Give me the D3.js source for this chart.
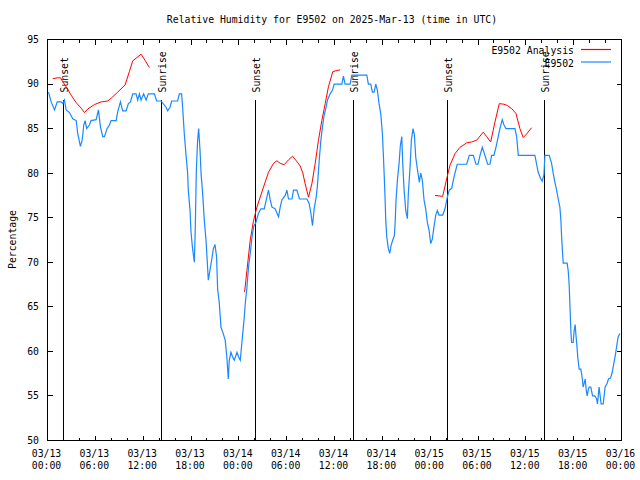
<!DOCTYPE html>
<html>
<head>
<meta charset="utf-8">
<script src="https://cdn.jsdelivr.net/npm/d3@7"></script>
<style>
  body { margin: 0; background: #fff; }
  text { font-family: "DejaVu Sans Mono", monospace; font-size: 9.8px; fill: #000; }
</style>
</head>
<body>
<script>
var W = 640, H = 480
var plot = {left: 47, right: 621, top: 39, bottom: 440}

var title = "Relative Humidity for E9502 on 2025-Mar-13 (time in UTC)"
var yLabel = "Percentage"
var seriesNames = ["E9502 Analysis", "E9502"]
var seriesColors = ["#ff0000", "#1a88ff"]
var yTicks = [50, 55, 60, 65, 70, 75, 80, 85, 90, 95]

// hours since 03/13 00:00 UTC
var sunsetHours = [2.05, 26.1, 50.15]
var sunriseHours = [14.32, 38.35, 62.3]
var sunLineTop = 88.3
var sunLabelBase = 89.05

var obsHours = [
  0.13, 0.46, 0.88, 1.22, 1.72, 1.94, 2.13, 2.34, 2.76, 3.17,
  3.60, 3.80, 4.13, 4.35, 4.55, 4.72, 4.92, 5.26, 5.47, 6.10,
  6.39, 6.64, 6.93, 7.14, 7.48, 7.77, 7.98, 8.61, 8.81, 9.15,
  9.43, 9.86, 10.15, 10.40, 10.69, 11.11, 11.31, 11.53, 11.74, 12.06,
  12.37, 12.65, 13.41, 13.69, 14.24, 14.87, 15.07, 15.37, 15.57, 16.32,
  16.54, 16.82, 16.95, 17.16, 17.38, 17.58, 17.66, 17.88, 18.00, 18.20,
  18.42, 18.54, 18.67, 18.83, 18.96, 19.13, 19.26, 19.46, 19.67, 19.88,
  20.01, 20.17, 20.38, 20.58, 20.80, 21.01, 21.21, 21.34, 21.55, 21.76,
  22.05, 22.30, 22.51, 22.68, 22.80, 23.01, 23.21, 23.43, 23.77, 23.97,
  24.18, 24.52, 24.68, 24.81, 25.02, 25.22, 25.43, 25.65, 25.85, 26.15,
  26.47, 26.77, 27.19, 27.44, 27.72, 27.94, 28.15, 28.56, 28.98, 29.19,
  29.40, 29.82, 30.03, 30.23, 30.66, 30.86, 31.28, 31.61, 32.54, 32.82,
  33.04, 33.24, 33.45, 33.70, 33.86, 34.08, 34.29, 34.49, 34.70, 34.92,
  35.12, 35.45, 35.74, 35.96, 36.92, 37.12, 37.33, 37.96, 38.17, 40.05,
  40.25, 40.55, 40.75, 40.97, 41.18, 41.38, 41.59, 41.81, 42.01, 42.13,
  42.26, 42.35, 42.43, 42.56, 42.76, 42.93, 43.10, 43.31, 43.51, 43.60,
  43.72, 43.89, 44.10, 44.26, 44.44, 44.56, 44.73, 44.94, 45.14, 45.26,
  45.48, 45.64, 45.85, 46.02, 46.19, 46.39, 46.64, 46.82, 47.02, 47.23,
  47.44, 47.64, 47.86, 48.07, 48.27, 48.48, 48.70, 48.90, 49.11, 49.57,
  49.86, 50.15, 50.40, 50.70, 50.90, 51.11, 51.40, 52.58, 52.91, 53.41,
  53.75, 54.00, 54.25, 54.54, 54.87, 55.21, 55.50, 55.71, 56.00, 56.25,
  56.54, 56.75, 57.04, 57.26, 57.51, 58.63, 58.85, 59.05, 61.14, 61.35,
  61.55, 61.85, 62.05, 62.27, 62.39, 62.93, 63.23, 63.43, 63.64, 63.86,
  64.06, 64.27, 64.40, 64.48, 64.61, 64.69, 65.18, 65.31, 65.43, 65.52,
  65.65, 65.74, 65.94, 66.06, 66.19, 66.27, 66.40, 66.52, 66.69, 66.90,
  67.06, 67.19, 67.31, 67.44, 67.56, 67.69, 67.82, 67.94, 68.15, 68.37,
  68.65, 68.87, 68.99, 69.12, 69.19, 69.32, 69.44, 69.70, 69.82, 69.94,
  70.19, 70.37, 70.62, 70.82, 71.03, 71.25, 71.45, 71.57, 71.79
]
var obsRH = [
  89.1, 88.0, 87.1, 88.0, 88.0, 87.8, 88.2, 87.1, 86.8, 86.1,
  85.9, 84.4, 83.0, 83.7, 85.4, 85.9, 85.0, 85.4, 85.9, 86.0,
  87.1, 85.2, 84.1, 84.1, 85.0, 85.4, 85.9, 85.9, 86.9, 88.0,
  87.0, 87.0, 87.8, 88.0, 88.9, 88.9, 88.2, 88.9, 88.2, 88.9,
  88.2, 88.9, 88.9, 88.1, 88.1, 87.4, 87.0, 87.4, 88.1, 88.1,
  88.9, 88.9, 87.4, 84.4, 82.0, 80.0, 78.1, 75.8, 73.4, 71.5,
  70.0, 74.0, 80.3, 83.7, 85.0, 82.6, 80.0, 77.7, 74.7, 72.5,
  70.6, 68.0, 69.1, 70.2, 71.5, 72.0, 70.6, 67.0, 65.4, 62.7,
  62.0, 61.2, 59.2, 56.9, 59.0, 59.9, 59.4, 59.0, 59.9, 59.4,
  59.0, 62.3, 63.8, 65.4, 67.2, 69.5, 71.0, 72.8, 74.0, 74.5,
  75.5, 76.0, 76.0, 77.0, 78.1, 77.0, 76.2, 76.0, 75.1, 76.2,
  77.0, 77.5, 78.1, 77.1, 77.1, 78.1, 78.1, 77.1, 77.1, 76.6,
  75.5, 74.1, 76.0, 77.3, 78.6, 81.4, 83.7, 85.2, 86.5, 87.3,
  88.2, 88.9, 89.3, 90.0, 90.0, 90.9, 90.0, 90.0, 91.0, 91.0,
  90.0, 90.0, 89.1, 89.1, 90.0, 89.3, 87.8, 86.6, 84.4, 82.0,
  79.2, 77.0, 74.7, 72.8, 71.5, 71.0, 71.9, 72.5, 73.0, 74.3,
  77.0, 79.2, 81.1, 83.1, 84.1, 81.1, 78.1, 75.8, 74.9, 77.7,
  80.7, 83.7, 85.0, 84.3, 81.8, 80.5, 79.0, 80.0, 79.2, 77.0,
  76.0, 74.5, 73.6, 72.1, 72.6, 74.0, 75.3, 75.8, 75.3, 75.3,
  76.0, 77.3, 78.1, 78.3, 79.2, 80.0, 81.0, 81.0, 82.0, 82.0,
  81.0, 81.0, 82.0, 82.9, 82.0, 81.0, 81.0, 82.0, 82.0, 82.9,
  84.1, 85.0, 86.0, 85.4, 85.0, 85.0, 84.1, 82.0, 82.0, 81.0,
  80.1, 79.4, 79.1, 79.8, 82.0, 82.0, 81.1, 80.0, 79.0, 78.1,
  77.1, 76.2, 74.7, 73.0, 71.0, 69.9, 69.9, 69.1, 67.6, 65.4,
  62.3, 61.0, 61.0, 62.3, 63.0, 62.0, 60.7, 59.3, 58.0, 58.0,
  57.1, 56.0, 56.4, 56.9, 55.8, 55.0, 55.6, 56.0, 56.0, 55.0,
  55.0, 54.7, 54.1, 55.4, 56.0, 55.0, 54.1, 54.1, 55.0, 56.0,
  56.4, 56.9, 57.0, 57.6, 58.6, 59.7, 60.9, 61.6, 62.0
]

// analysis (E9502 Analysis), null = gap
var anaHours = [
  0.66, 1.22, 1.63, 1.92, 2.34, 2.97, 3.60, 4.22, 4.64, 5.05,
  5.89, 6.73, 7.55, 7.98, 8.81, 9.73, 10.27, 10.69, 11.11, 11.74,
  12.28, 12.78, null,
  24.72, 25.02, 25.43, 25.85, 26.27, 27.10, 27.72, 28.35, 28.78, 29.19,
  29.69, 30.23, 30.73, 31.20, 31.70, 32.03, 32.32, 32.74, 33.16, 33.58,
  33.99, 34.41, 34.83, 35.24, 35.79, 36.21, 36.71, null,
  48.61, 49.57, 50.08, 50.49, 51.12, 51.74, 52.58, 53.21, 53.83, 54.66,
  55.09, 55.59, 56.13, 56.67, 57.17, 57.67, 58.22, 58.76, 59.26, 59.67,
  60.10, 60.72
]
var anaRH = [
  90.6, 90.7, 90.7, 90.25, 89.7, 88.75, 87.9, 87.3, 86.8, 87.2,
  87.7, 88.0, 88.1, 88.4, 89.1, 89.9, 91.4, 92.6, 92.9, 93.35,
  92.6, 91.85, null,
  66.65, 69.1, 72.5, 74.7, 76.2, 78.45, 80.1, 81.1, 81.4, 81.1,
  80.95, 81.5, 81.9, 81.4, 80.8, 80.0, 78.8, 77.3, 78.8, 81.1,
  83.7, 85.9, 87.8, 89.7, 91.4, 91.5, 91.6, null,
  77.5, 77.4, 79.4, 80.9, 82.2, 82.9, 83.4, 83.5, 83.7, 84.6,
  84.1, 83.5, 85.75, 87.8, 87.75, 87.6, 87.25, 86.7, 85.0, 84.0,
  84.4, 85.1
]

var t0 = Date.UTC(2025, 2, 13)
function toDate(h) { return new Date(t0 + h * 3600e3) }

var svg = d3.select("body").append("svg")
    .attr("width", W)
    .attr("height", H)

var x = d3.scaleUtc()
    .domain([toDate(0), toDate(72)])
    .range([plot.left + 0.5, plot.right + 0.5])
var y = d3.scaleLinear()
    .domain([50, 95])
    .range([plot.bottom + 0.5, plot.top + 0.5])

function px(v) { return Math.floor(v) + 0.5 }

// title
svg.append("text")
    .attr("x", (plot.left + plot.right) / 2 - 2)
    .attr("y", 23)
    .attr("text-anchor", "middle")
    .text(title)

// y axis label
svg.append("text")
    .attr("transform", "translate(16," + ((plot.top + plot.bottom) / 2) + ") rotate(-90)")
    .attr("text-anchor", "middle")
    .text(yLabel)

// sunrise / sunset markers
var sunEvents = sunsetHours.map(function(h) { return {h: h, name: "Sunset"} })
    .concat(sunriseHours.map(function(h) { return {h: h, name: "Sunrise"} }))

svg.selectAll("line.sun")
    .data(sunEvents)
    .join("line")
    .attr("class", "sun")
    .attr("x1", function(d) { return px(x(toDate(d.h))) })
    .attr("x2", function(d) { return px(x(toDate(d.h))) })
    .attr("y1", px(y(sunLineTop)))
    .attr("y2", px(y(50)))
    .attr("stroke", "#000")
    .attr("shape-rendering", "crispEdges")

svg.selectAll("text.sun")
    .data(sunEvents)
    .join("text")
    .attr("class", "sun")
    .attr("transform", function(d) {
        return "translate(" + px(x(toDate(d.h))) + "," + y(sunLabelBase) + ") rotate(-90)"
    })
    .attr("dy", "0.45em")
    .text(function(d) { return d.name })

// series
var line = d3.line()
    .defined(function(d) { return d.v != null })
    .x(function(d) { return x(toDate(d.h)) })
    .y(function(d) { return y(d.v) })

var anaData = anaHours.map(function(h, i) { return {h: h, v: anaRH[i]} })
var obsData = obsHours.map(function(h, i) { return {h: h, v: obsRH[i]} })

svg.append("path")
    .datum(anaData)
    .attr("d", line)
    .attr("fill", "none")
    .attr("stroke", seriesColors[0])
    .attr("stroke-width", 1)

svg.append("path")
    .datum(obsData)
    .attr("d", line)
    .attr("fill", "none")
    .attr("stroke", seriesColors[1])
    .attr("stroke-width", 1.2)

// ticks (inward, mirrored)
var axisG = svg.append("g")
    .attr("stroke", "#000")
    .attr("shape-rendering", "crispEdges")

var xMinor = x.ticks(d3.utcHour.every(2))
var xMajor = x.ticks(d3.utcHour.every(6))

axisG.selectAll("line.xb")
    .data(xMinor)
    .join("line")
    .attr("x1", function(d) { return px(x(d)) })
    .attr("x2", function(d) { return px(x(d)) })
    .attr("y1", px(y(50)))
    .attr("y2", function(d) { return px(y(50)) - (d.getUTCHours() % 6 ? 3 : 5) })

axisG.selectAll("line.xt")
    .data(xMinor)
    .join("line")
    .attr("x1", function(d) { return px(x(d)) })
    .attr("x2", function(d) { return px(x(d)) })
    .attr("y1", px(y(95)))
    .attr("y2", function(d) { return px(y(95)) + (d.getUTCHours() % 6 ? 3 : 5) })

axisG.selectAll("line.yl")
    .data(yTicks)
    .join("line")
    .attr("x1", px(plot.left))
    .attr("x2", px(plot.left) + 5)
    .attr("y1", function(d) { return px(y(d)) })
    .attr("y2", function(d) { return px(y(d)) })

axisG.selectAll("line.yr")
    .data(yTicks)
    .join("line")
    .attr("x1", px(plot.right))
    .attr("x2", px(plot.right) - 5)
    .attr("y1", function(d) { return px(y(d)) })
    .attr("y2", function(d) { return px(y(d)) })

// border
axisG.append("rect")
    .attr("x", px(plot.left))
    .attr("y", px(plot.top))
    .attr("width", plot.right - plot.left)
    .attr("height", plot.bottom - plot.top)
    .attr("fill", "none")

// tick labels
svg.selectAll("text.yt")
    .data(yTicks)
    .join("text")
    .attr("x", plot.left - 8)
    .attr("y", function(d) { return y(d) })
    .attr("dy", "0.35em")
    .attr("text-anchor", "end")
    .text(function(d) { return d })

var fmtDay = d3.utcFormat("%m/%d"), fmtHour = d3.utcFormat("%H:%M")
var xl = svg.selectAll("text.xl")
    .data(xMajor)
    .join("text")
    .attr("text-anchor", "middle")
xl.append("tspan")
    .attr("x", function(d) { return x(d) - 1 })
    .attr("y", plot.bottom + 17)
    .text(function(d) { return fmtDay(d) })
xl.append("tspan")
    .attr("x", function(d) { return x(d) - 1 })
    .attr("y", plot.bottom + 29)
    .text(function(d) { return fmtHour(d) })

// legend
var leg = svg.selectAll("g.leg")
    .data(seriesNames)
    .join("g")
    .attr("transform", function(d, i) { return "translate(0," + (54 + i * 12.5) + ")" })
leg.append("text")
    .attr("x", 574)
    .attr("text-anchor", "end")
    .text(function(d) { return d })
leg.append("line")
    .attr("x1", 581)
    .attr("x2", 611)
    .attr("y1", -4.5)
    .attr("y2", -4.5)
    .attr("stroke", function(d, i) { return seriesColors[i] })
    .attr("stroke-width", 1.2)
</script>
</body>
</html>
